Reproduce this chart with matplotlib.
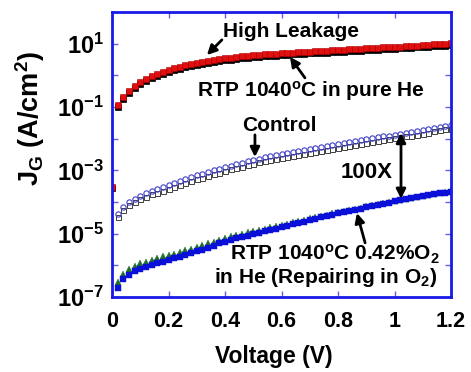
import numpy as np
import matplotlib
matplotlib.use('Agg')
import matplotlib.pyplot as plt
from matplotlib.ticker import FixedLocator, FixedFormatter, NullLocator

plt.rcParams['font.family'] = ['Liberation Sans', 'DejaVu Sans']
plt.rcParams['font.weight'] = 'bold'
plt.rcParams['mathtext.fontset'] = 'custom'
plt.rcParams['mathtext.rm'] = 'Liberation Sans:bold'
plt.rcParams['mathtext.bf'] = 'Liberation Sans:bold'
plt.rcParams['mathtext.it'] = 'Liberation Sans:bold'
plt.rcParams['mathtext.default'] = 'rm'

# gate voltage (V), 0.02 V steps
voltage = [0.00, 0.02, 0.04, 0.06, 0.08, 0.10, 0.12, 0.14, 0.16, 0.18, 0.20,
           0.22, 0.24, 0.26, 0.28, 0.30, 0.32, 0.34, 0.36, 0.38, 0.40,
           0.42, 0.44, 0.46, 0.48, 0.50, 0.52, 0.54, 0.56, 0.58, 0.60,
           0.62, 0.64, 0.66, 0.68, 0.70, 0.72, 0.74, 0.76, 0.78, 0.80,
           0.82, 0.84, 0.86, 0.88, 0.90, 0.92, 0.94, 0.96, 0.98, 1.00,
           1.02, 1.04, 1.06, 1.08, 1.10, 1.12, 1.14, 1.16, 1.18, 1.20]

# log10 of J_G (A/cm^2)
log_high_leak = [-3.53, -0.95, -0.68, -0.50, -0.33, -0.20, -0.11, -0.03, 0.04, 0.11, 0.17,
                 0.22, 0.27, 0.32, 0.36, 0.40, 0.43, 0.46, 0.49, 0.52, 0.54,
                 0.56, 0.58, 0.60, 0.61, 0.63, 0.64, 0.66, 0.67, 0.68, 0.70,
                 0.71, 0.72, 0.73, 0.74, 0.75, 0.76, 0.77, 0.78, 0.79, 0.80,
                 0.81, 0.82, 0.83, 0.84, 0.85, 0.86, 0.87, 0.88, 0.89, 0.90,
                 0.91, 0.92, 0.93, 0.94, 0.96, 0.97, 0.98, 0.99, 1.00, 1.01]

log_pure_he = [-3.55, -1.00, -0.74, -0.56, -0.39, -0.26, -0.17, -0.09, -0.02, 0.05, 0.11,
               0.16, 0.21, 0.26, 0.30, 0.34, 0.37, 0.40, 0.43, 0.46, 0.48,
               0.50, 0.52, 0.54, 0.55, 0.57, 0.58, 0.60, 0.61, 0.62, 0.64,
               0.65, 0.66, 0.67, 0.68, 0.69, 0.70, 0.71, 0.72, 0.73, 0.74,
               0.75, 0.76, 0.77, 0.78, 0.79, 0.80, 0.81, 0.82, 0.83, 0.84,
               0.85, 0.86, 0.87, 0.88, 0.90, 0.91, 0.92, 0.93, 0.94, 0.95]

log_control_a = [np.nan, -4.39, -4.15, -4.00, -3.89, -3.80, -3.72, -3.65, -3.58, -3.52, -3.46,
                 -3.40, -3.34, -3.28, -3.22, -3.16, -3.11, -3.05, -3.00, -2.95, -2.90,
                 -2.85, -2.80, -2.76, -2.71, -2.67, -2.63, -2.59, -2.56, -2.52, -2.49,
                 -2.46, -2.42, -2.39, -2.36, -2.33, -2.30, -2.27, -2.23, -2.20, -2.17,
                 -2.14, -2.11, -2.08, -2.05, -2.02, -1.99, -1.96, -1.93, -1.90, -1.87,
                 -1.84, -1.81, -1.78, -1.75, -1.72, -1.69, -1.65, -1.62, -1.59, -1.56]

log_control_b = [np.nan, -4.48, -4.26, -4.11, -4.00, -3.91, -3.83, -3.76, -3.70, -3.64, -3.58,
                 -3.52, -3.46, -3.40, -3.34, -3.28, -3.23, -3.17, -3.12, -3.07, -3.02,
                 -2.97, -2.92, -2.88, -2.83, -2.79, -2.75, -2.71, -2.68, -2.64, -2.61,
                 -2.58, -2.54, -2.51, -2.48, -2.45, -2.42, -2.39, -2.35, -2.32, -2.29,
                 -2.26, -2.23, -2.20, -2.17, -2.14, -2.11, -2.08, -2.05, -2.02, -1.99,
                 -1.96, -1.93, -1.90, -1.87, -1.84, -1.81, -1.77, -1.74, -1.71, -1.68]

log_repair_a = [np.nan, -6.52, -6.27, -6.12, -6.02, -5.94, -5.88, -5.82, -5.77, -5.72, -5.68,
                -5.63, -5.58, -5.53, -5.48, -5.42, -5.37, -5.31, -5.25, -5.19, -5.13,
                -5.08, -5.04, -5.00, -4.96, -4.92, -4.88, -4.84, -4.80, -4.76, -4.72,
                -4.68, -4.64, -4.60, -4.56, -4.52, -4.48, -4.44, -4.40, -4.36, -4.32,
                -4.29, -4.25, -4.22, -4.18, -4.14, -4.11, -4.07, -4.04, -4.00, -3.96,
                -3.93, -3.90, -3.87, -3.84, -3.81, -3.78, -3.75, -3.72, -3.69, -3.66]

log_repair_b = [np.nan, -6.72, -6.44, -6.29, -6.18, -6.10, -6.04, -5.98, -5.93, -5.88, -5.83,
                -5.78, -5.73, -5.67, -5.62, -5.56, -5.50, -5.44, -5.38, -5.31, -5.25,
                -5.20, -5.15, -5.11, -5.07, -5.02, -4.98, -4.93, -4.89, -4.84, -4.80,
                -4.75, -4.71, -4.66, -4.62, -4.57, -4.53, -4.48, -4.44, -4.40, -4.36,
                -4.32, -4.29, -4.25, -4.21, -4.17, -4.13, -4.10, -4.06, -4.02, -3.98,
                -3.94, -3.91, -3.88, -3.85, -3.82, -3.79, -3.76, -3.73, -3.70, -3.67]

ytick_vals = [1e-7, 1e-6, 1e-5, 1e-4, 1e-3, 1e-2, 1e-1, 1e0, 1e1]
ytick_labels = ['10$^{-7}$', '', '10$^{-5}$', '', '10$^{-3}$', '', '10$^{-1}$', '', '10$^{1}$']
xtick_vals = [0, 0.2, 0.4, 0.6, 0.8, 1.0, 1.2]
xtick_labels = ['0', '0.2', '0.4', '0.6', '0.8', '1', '1.2']

v = np.array(voltage)
def j(lst):
    return 10.0 ** np.array(lst)

fig = plt.figure(figsize=(4.71, 3.72), dpi=100)
ax = fig.add_axes([112/471, 1-297/372, 339/471, 285/372])

ax.plot(v, j(log_pure_he), 's', ms=4.0, mfc='black', mec='black', mew=0.5)
ax.plot(v, j(log_high_leak), 's', ms=4.0, mfc='#e01010', mec='#b00000', mew=0.4)
ax.plot(v, j(log_control_b), 's', ms=3.6, mfc='none', mec='#404040', mew=0.7)
ax.plot(v, j(log_control_a), 'o', ms=3.8, mfc='none', mec='#4040c8', mew=0.8)
ax.plot(v, j(log_repair_a), '^', ms=5.0, mfc='#1f6e2a', mec='#1f6e2a', mew=0.3)
ax.plot(v, j(log_repair_b), 's', ms=4.4, mfc='#0a10d8', mec='#0a10d8', mew=0.3)

ax.set_yscale('log')
ax.set_xlim(0, 1.2)
ax.set_ylim(1e-7, 1e2)
ax.yaxis.set_major_locator(FixedLocator(ytick_vals))
ax.yaxis.set_major_formatter(FixedFormatter(ytick_labels))
ax.yaxis.set_minor_locator(NullLocator())
ax.set_xticks(xtick_vals)
ax.set_xticklabels(xtick_labels)

for s in ax.spines.values():
    s.set_color('#1a1ae6')
    s.set_linewidth(2.0)
ax.tick_params(which='major', direction='in', length=4, width=1, color='#6060e0',
               top=True, right=True)
ax.tick_params(axis='y', labelsize=17, pad=6)
ax.tick_params(axis='x', labelsize=15.5, pad=10)
for lab in ax.get_xticklabels() + ax.get_yticklabels():
    lab.set_fontweight('bold')

fig.text(30/471, 1-119/372, 'J$_G$ (A/cm$^2$)', rotation=90, ha='center', va='center',
         fontsize=19.5, fontweight='bold')
fig.text(274/471, 1-357/372, 'Voltage (V)', ha='center', va='center',
         fontsize=16.5, fontweight='bold')

arr = dict(arrowstyle='-|>', lw=2, color='black', mutation_scale=14, shrinkA=0, shrinkB=0)
tkw = dict(fontsize=15, fontweight='bold', ha='center', va='center')

ax.text(0.634, 10**1.40, 'High Leakage', **tkw)
ax.annotate('', xy=(0.336, 10**0.64), xytext=(0.389, 10**1.12), arrowprops=arr)

ax.text(0.704, 10**-0.49, 'RTP 1040$^o$C in pure He', **tkw)
ax.annotate('', xy=(0.630, 10**0.58), xytext=(0.683, 10**-0.08), arrowprops=arr)

ax.text(0.593, 10**-1.57, 'Control', **tkw)
ax.annotate('', xy=(0.506, 10**-2.58), xytext=(0.506, 10**-1.88), arrowprops=arr)

ax.text(0.901, 10**-3.08, '100X', fontsize=16, fontweight='bold', ha='center', va='center')
ax.annotate('', xy=(1.023, 10**-3.90), xytext=(1.023, 10**-1.82),
            arrowprops=dict(arrowstyle='<|-|>', lw=2, color='black', mutation_scale=14,
                            shrinkA=0, shrinkB=0))

ax.text(0.789, 10**-5.64, 'RTP 1040$^o$C 0.42%O$_2$', **tkw)
ax.text(0.758, 10**-6.37, 'in He (Repairing in O$_2$)', **tkw)
ax.annotate('', xy=(0.867, 10**-4.35), xytext=(0.896, 10**-5.29), arrowprops=arr)

fig.savefig('out.png', dpi=100)
